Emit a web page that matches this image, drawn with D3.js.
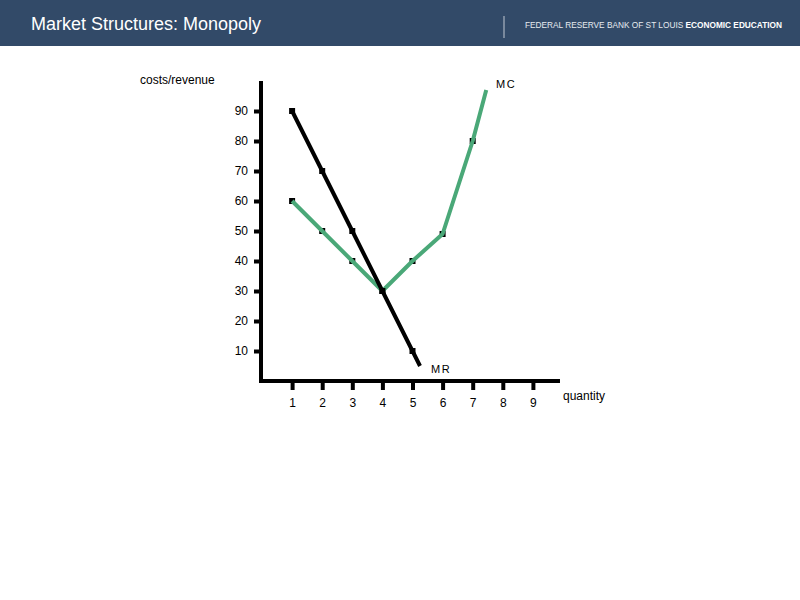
<!DOCTYPE html>
<html><head><meta charset="utf-8">
<script src="https://cdn.jsdelivr.net/npm/d3@7"></script>
<style>body{margin:0;background:#fff;}svg{display:block;font-family:"Liberation Sans",Arial,sans-serif;}</style>
</head><body>
<svg id="c" width="800" height="600"></svg>
<script>
const title = "Market Structures: Monopoly";
const brandLight = "FEDERAL RESERVE BANK OF ST LOUIS ";
const brandBold = "ECONOMIC EDUCATION";
const yTicks = [10,20,30,40,50,60,70,80,90];
const xTicks = [1,2,3,4,5,6,7,8,9];
const mrQty = [1,2,3,4,5];
const mrVal = [90,70,50,30,10];
const mrEnd = [5.25,5];
const mcQty = [1,2,3,4,5,6,7];
const mcVal = [60,50,40,30,40,49,80];
const mcEnd = [7.45,97];
const yLabel = "costs/revenue";
const xLabel = "quantity";

const svg = d3.select("#c");
svg.append("rect").attr("x",0).attr("y",0).attr("width",800).attr("height",46).attr("fill","#324a68");
svg.append("text").attr("x",31).attr("y",30).attr("fill","#fff").attr("font-size",17.5).attr("textLength",230).attr("lengthAdjust","spacingAndGlyphs").text(title);
svg.append("line").attr("x1",504).attr("x2",504).attr("y1",16).attr("y2",38).attr("stroke","#aab4c2").attr("stroke-width",1.2);
const bt = svg.append("text").attr("x",525).attr("y",28).attr("fill","#e6eaf0").attr("font-size",8.2).attr("textLength",257).attr("lengthAdjust","spacingAndGlyphs");
bt.append("tspan").text(brandLight);
bt.append("tspan").attr("font-weight","bold").attr("fill","#fff").text(brandBold);

const x = d3.scaleLinear().domain([0,10]).range([262,563]);
const y = d3.scaleLinear().domain([0,100]).range([381,81]);

// axes lines
svg.append("line").attr("x1",x(0)-1).attr("x2",x(0)-1).attr("y1",y(100)).attr("y2",y(0)+2).attr("stroke","#000").attr("stroke-width",4);
svg.append("line").attr("x1",x(0)-3).attr("x2",x(9.9)).attr("y1",y(0)).attr("y2",y(0)).attr("stroke","#000").attr("stroke-width",4);

const yAxis = d3.axisLeft(y).tickValues(yTicks).tickSize(5).tickPadding(6);
const gy = svg.append("g").attr("transform",`translate(${x(0)-3},0)`).call(yAxis);
gy.select(".domain").remove();
gy.selectAll(".tick line").attr("stroke","#000").attr("stroke-width",4);
gy.selectAll(".tick text").attr("font-size",12).attr("fill","#000").attr("font-family","Liberation Sans, Arial, sans-serif");

const xAxis = d3.axisBottom(x).tickValues(xTicks).tickSize(9).tickPadding(8);
const gx = svg.append("g").attr("transform",`translate(0,${y(0)})`).call(xAxis);
gx.select(".domain").remove();
gx.selectAll(".tick line").attr("stroke","#000").attr("stroke-width",4);
gx.selectAll(".tick text").attr("font-size",12).attr("fill","#000").attr("font-family","Liberation Sans, Arial, sans-serif");

const line = d3.line().x(d=>x(d[0])).y(d=>y(d[1]));
const green = "#4aa878";

const mcPts = mcQty.map((q,i)=>[q,mcVal[i]]);
const mrPts = mrQty.map((q,i)=>[q,mrVal[i]]);

// MC markers then line
svg.selectAll(".mcm").data(mcPts).enter().append("rect")
  .attr("x",d=>x(d[0])-3).attr("y",d=>y(d[1])-3).attr("width",6).attr("height",6).attr("fill","#000");
svg.append("path").datum(mcPts.concat([mcEnd])).attr("d",line).attr("fill","none").attr("stroke",green).attr("stroke-width",4).attr("stroke-linejoin","round");

// MR
svg.append("path").datum(mrPts.concat([mrEnd])).attr("d",line).attr("fill","none").attr("stroke","#000").attr("stroke-width",4).attr("stroke-linejoin","round");
svg.selectAll(".mrm").data(mrPts).enter().append("rect")
  .attr("x",d=>x(d[0])-3).attr("y",d=>y(d[1])-3).attr("width",6).attr("height",6).attr("fill","#000");

svg.append("text").attr("x",140).attr("y",84).attr("font-size",12).text(yLabel);
svg.append("text").attr("x",563).attr("y",400).attr("font-size",12).text(xLabel);
svg.append("text").attr("x",496).attr("y",88).attr("font-size",11).attr("letter-spacing",1.5).text("MC");
svg.append("text").attr("x",431).attr("y",373).attr("font-size",11).attr("letter-spacing",1.5).text("MR");
</script>
</body></html>
